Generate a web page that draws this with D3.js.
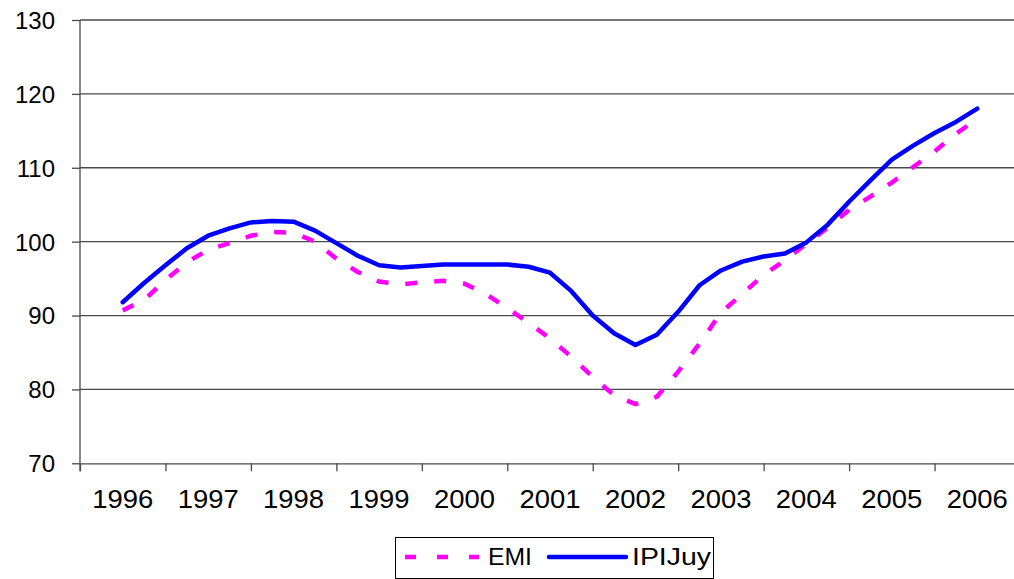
<!DOCTYPE html>
<html>
<head>
<meta charset="utf-8">
<script src="https://cdn.jsdelivr.net/npm/d3@7"></script>
<style>
  html, body { margin: 0; padding: 0; background: #fff; }
  svg { display: block; font-family: "Liberation Sans", Arial, sans-serif; }
</style>
</head>
<body>
<svg id="chart" width="1014" height="579"></svg>
<script>
// Year categories shown on the horizontal axis
const years = ["1996", "1997", "1998", "1999", "2000", "2001", "2002", "2003", "2004", "2005", "2006"];

// Quarterly index values (41 observations, mid-1996 to mid-2006)
const emi = [
  90.7, 92.1, 94.8, 97.2, 98.9, 99.8, 100.8, 101.3, 101.2, 100.0, 97.7, 95.9, 94.6, 94.2,
  94.5, 94.7, 94.3, 92.9, 91.0, 89.0, 86.9, 84.4, 81.7, 79.2, 78.0, 79.0, 82.4, 86.2,
  90.4, 92.9, 95.5, 97.5, 99.7, 101.9, 104.3, 106.1, 108.0, 110.1, 112.2, 114.6, 116.6
];
const ipiJuy = [
  91.8, 94.4, 96.8, 99.1, 100.8, 101.8, 102.6, 102.8, 102.7, 101.5, 99.8, 98.1, 96.8, 96.5,
  96.7, 96.9, 96.9, 96.9, 96.9, 96.6, 95.8, 93.3, 90.0, 87.6, 86.0, 87.4, 90.5, 94.1,
  96.1, 97.3, 98.0, 98.4, 99.9, 102.3, 105.4, 108.3, 111.1, 113.0, 114.7, 116.2, 118.0
];

// Value axis ticks
const yTicks = [70, 80, 90, 100, 110, 120, 130];

const seriesNames = ["EMI", "IPIJuy"];

const svg = d3.select("#chart");

const plotLeft = 80, plotRight = 1020, plotTop = 20, plotBottom = 463.3;

// Quarters run 0..44 across the eleven year bands; first point sits mid-1996
const x = d3.scaleLinear().domain([0, years.length * 4]).range([plotLeft, plotRight]);
const xBand = d3.scaleBand().domain(years).range([plotLeft, plotRight]).padding(0);
const y = d3.scaleLinear().domain([70, 130]).range([plotBottom, plotTop]);

const gridColor = "#4a4a4a";

// Horizontal gridlines
svg.append("g")
  .selectAll("line")
  .data(yTicks.filter(v => v > 70))
  .join("line")
  .attr("x1", plotLeft).attr("x2", plotRight)
  .attr("y1", d => y(d)).attr("y2", d => y(d))
  .attr("stroke", gridColor)
  .attr("stroke-width", 1.3);

// Left value axis
const yAxis = svg.append("g")
  .attr("transform", `translate(${plotLeft},0)`)
  .call(d3.axisLeft(y).tickValues(yTicks).tickSize(8).tickSizeOuter(0).tickPadding(17));
yAxis.select(".domain").attr("stroke", gridColor).attr("stroke-width", 1.3)
  .attr("d", `M0,${plotTop}V${plotBottom + 8}`);
yAxis.selectAll(".tick line").attr("stroke", gridColor).attr("stroke-width", 1.3);
yAxis.selectAll(".tick text")
  .attr("fill", "#000")
  .style("font-size", "24px")
  .attr("dy", "0.35em");

// Bottom category axis: tick marks at year boundaries
const boundaries = d3.range(0, years.length + 1).map(k => k * 4);
const xAxis = svg.append("g")
  .attr("transform", `translate(0,${plotBottom})`)
  .call(d3.axisBottom(x).tickValues(boundaries).tickSize(8).tickSizeOuter(0).tickFormat(""));
xAxis.select(".domain").attr("stroke", gridColor).attr("stroke-width", 1.3);
xAxis.selectAll(".tick line").attr("stroke", gridColor).attr("stroke-width", 1.3);

// Year labels centred in each band
svg.append("g")
  .selectAll("text")
  .data(years)
  .join("text")
  .attr("x", d => xBand(d) + xBand.bandwidth() / 2)
  .attr("y", 508)
  .attr("text-anchor", "middle")
  .attr("textLength", 61)
  .attr("lengthAdjust", "spacingAndGlyphs")
  .style("font-size", "25.5px")
  .attr("fill", "#000")
  .text(d => d);

const line = d3.line()
  .x((d, i) => x(2 + i))
  .y(d => y(d))
  .curve(d3.curveLinear);

// EMI: dashed magenta
svg.append("path")
  .datum(emi)
  .attr("d", line)
  .attr("fill", "none")
  .attr("stroke", "#ff00ff")
  .attr("stroke-width", 4.5)
  .attr("stroke-dasharray", "12,17");

// IPIJuy: solid blue
svg.append("path")
  .datum(ipiJuy)
  .attr("d", line)
  .attr("fill", "none")
  .attr("stroke", "#0000ff")
  .attr("stroke-width", 4.5)
  .attr("stroke-linejoin", "round")
  .attr("stroke-linecap", "round");

// Legend
const lg = svg.append("g");
lg.append("rect")
  .attr("x", 395.5).attr("y", 537.5)
  .attr("width", 318).attr("height", 41)
  .attr("fill", "#fff")
  .attr("stroke", "#000")
  .attr("stroke-width", 1);
lg.append("line")
  .attr("x1", 405).attr("x2", 479).attr("y1", 557).attr("y2", 557)
  .attr("stroke", "#ff00ff").attr("stroke-width", 4.5)
  .attr("stroke-dasharray", "11,21");
lg.append("text")
  .attr("x", 488).attr("y", 565)
  .attr("textLength", 44)
  .attr("lengthAdjust", "spacingAndGlyphs")
  .style("font-size", "23px").attr("fill", "#000")
  .text(seriesNames[0]);
lg.append("line")
  .attr("x1", 549).attr("x2", 626).attr("y1", 557).attr("y2", 557)
  .attr("stroke", "#0000ff").attr("stroke-width", 4.5)
  .attr("stroke-linecap", "round");
lg.append("text")
  .attr("x", 632).attr("y", 565)
  .attr("textLength", 79)
  .attr("lengthAdjust", "spacingAndGlyphs")
  .style("font-size", "23px").attr("fill", "#000")
  .text(seriesNames[1]);
</script>
</body>
</html>
